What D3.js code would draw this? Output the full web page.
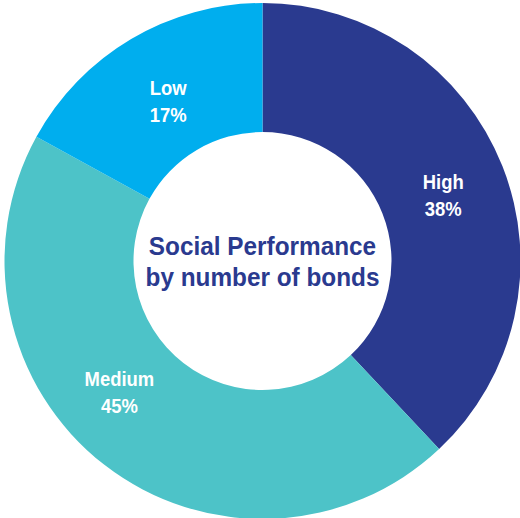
<!DOCTYPE html>
<html>
<head>
<meta charset="utf-8">
<script src="https://cdn.jsdelivr.net/npm/d3@7/dist/d3.min.js"></script>
<style>
  html, body { margin: 0; padding: 0; background: #ffffff; }
  svg { display: block; }
</style>
</head>
<body>
<svg id="chart" width="520" height="518"></svg>
<script>
// Share of bonds by social performance rating
const categories = ["High", "Medium", "Low"];
const shares = [38, 45, 17];
const sliceColors = ["#2a3a8f", "#4dc3c8", "#00aeee"];
const titleLines = ["Social Performance", "by number of bonds"];

// Layout
const W = 520, H = 518;
const cx = 262.5, cy = 261;
const outerR = 258, innerR = 129;
const font = "'Liberation Sans', Arial, sans-serif";
// Label placement: angular nudge (deg) from slice mid-angle and distance from centre
const labelPlacement = {
  High:   { nudge: 3.6, r: 190 },
  Medium: { nudge: 8.2, r: 199 },
  Low:    { nudge: -1.0, r: 180 }
};

const svg = d3.select("#chart");
const g = svg.append("g").attr("transform", `translate(${cx},${cy})`);

const data = categories.map((c, i) => ({ category: c, value: shares[i], color: sliceColors[i] }));

const pie = d3.pie().value(d => d.value).sort(null);
const arc = d3.arc().innerRadius(innerR).outerRadius(outerR);
const arcs = pie(data);

g.selectAll("path.slice")
  .data(arcs)
  .join("path")
  .attr("class", "slice")
  .attr("d", arc)
  .attr("fill", d => d.data.color);

// Slice labels: name + percentage, set slightly condensed
const labels = g.selectAll("g.label")
  .data(arcs)
  .join("g")
  .attr("class", "label")
  .attr("transform", d => {
    const p = labelPlacement[d.data.category];
    const a = (d.startAngle + d.endAngle) / 2 + p.nudge * Math.PI / 180;
    return `translate(${p.r * Math.sin(a)},${-p.r * Math.cos(a)}) scale(0.9,1)`;
  });

labels.append("text")
  .attr("text-anchor", "middle")
  .attr("y", -13)
  .attr("fill", "#ffffff")
  .attr("font-family", font)
  .attr("font-weight", "bold")
  .attr("font-size", 20.5)
  .text(d => d.data.category);

labels.append("text")
  .attr("text-anchor", "middle")
  .attr("y", 14)
  .attr("fill", "#ffffff")
  .attr("font-family", font)
  .attr("font-weight", "bold")
  .attr("font-size", 20.5)
  .text(d => d.data.value + "%");

// Centre title
const title = g.append("g").attr("transform", "scale(0.955,1)");
title.selectAll("text.title")
  .data(titleLines)
  .join("text")
  .attr("class", "title")
  .attr("text-anchor", "middle")
  .attr("x", 0)
  .attr("y", (d, i) => -6 + i * 31)
  .attr("fill", "#2a3a8f")
  .attr("font-family", font)
  .attr("font-weight", "bold")
  .attr("font-size", 25.5)
  .text(d => d);
</script>
</body>
</html>
